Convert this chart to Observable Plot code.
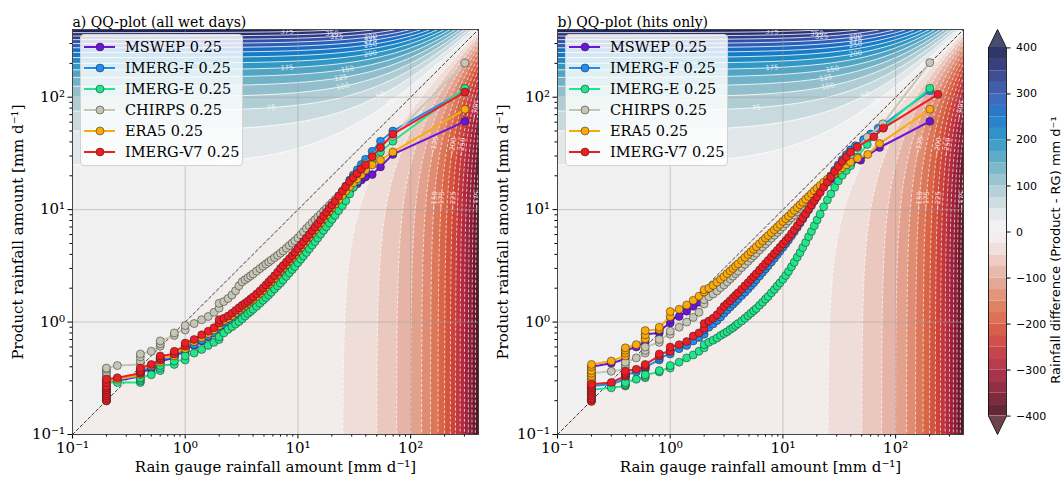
<!DOCTYPE html>
<html><head><meta charset="utf-8">
<script src="https://cdn.jsdelivr.net/npm/d3@7"></script>
<script src="https://cdn.jsdelivr.net/npm/@observablehq/plot@0.6"></script>
<style>
body{margin:0;background:#fff;}
#root{position:relative;width:1063px;height:482px;overflow:hidden;font-family:"DejaVu Serif",serif;}
.layer{position:absolute;top:0;}
.layer svg{display:block;overflow:visible;}
.legend{position:absolute;top:34px;width:161px;height:128px;padding-top:1.5px;background:rgba(255,255,255,0.82);border:1px solid #d2d2d2;border-radius:4px;font-family:"DejaVu Serif",serif;font-size:14.5px;color:#000;}
.row{height:21px;display:flex;align-items:center;white-space:nowrap;}
.row svg{width:44px;height:12px;flex:none;display:block;}
</style></head><body><div id="root"></div>
<script>
// ---------- labels ----------
const products = ["MSWEP 0.25", "IMERG-F 0.25", "IMERG-E 0.25", "CHIRPS 0.25", "ERA5 0.25", "IMERG-V7 0.25"];
const seriesColors = ["#6c14d8", "#1e8ef0", "#1fe68a", "#c6c6b6", "#fbaa0a", "#ee1c25"];
const titles = ["a) QQ-plot (all wet days)", "b) QQ-plot (hits only)"];
const xLabel = "Rain gauge rainfall amount [mm d\u207B\u00B9]";
const yLabel = "Product rainfall amount [mm d\u207B\u00B9]";
const cbLabel = "Rainfall difference (Product - RG) mm d\u207B\u00B9";

// ---------- axes ----------
const axisDomain = [0.1, 400];
const majorTicks = [0.1, 1, 10, 100];
const minorTicks = [0.2,0.3,0.4,0.5,0.6,0.7,0.8,0.9,2,3,4,5,6,7,8,9,20,30,40,50,60,70,80,90,200,300];
const cbTicks = [-400,-300,-200,-100,0,100,200,300,400];

// ---------- colour map (difference Product - RG) ----------
const cbValues = [-400,-350,-300,-250,-200,-150,-100,-50,-25,0,25,50,100,150,200,250,300,350,400];
const cbColors = ["#4b1320","#7f1a2f","#aa2541","#c93a3a","#d75b3d","#dd8264","#e4aa9b","#edd2ca","#f1e8e7","#f3f0ef","#edeff0","#d6e1e4","#a3c6cf","#62abc4","#2290c1","#1372c9","#3457b2","#2c367e","#1b1f4e"];
const bandLevels = d3.range(-400, 400, 25);
const posLevels = d3.range(25, 400, 25);
const negLevels = d3.range(-375, 0, 25);

// contour label placements (level, gauge or product value where label sits)
const posLabelLevels = [375, 350, 325, 300, 275, 250, 200, 175, 150, 125, 100, 75, 50, 25];
const posLabelAt     = [8, 20, 22, 44, 44, 44, 44, 8, 27.5, 24, 25, 5.8, 54, 66];
const negLabelLevels = [-125, -200, -250, -300, -150, -175, -225, -375];
const negLabelAt     = [37, 36, 36, 76, 12, 12, 12, 12];

// ---------- panel a: all wet days (shared gauge quantiles) ----------
const gaugeA = [0.2,0.2,0.2,0.2,0.2,0.2,0.2,0.2,0.2,0.2,
0.25, 0.4,0.4,0.4,0.4, 0.5, 0.6,0.6,0.6, 0.8,0.8, 1.0,1.0, 1.2,1.4,1.6,1.8, 2.0,2.0,
2.2,2.4,2.6,2.8,3.0,3.2,3.4,3.6,3.8,4.0,
4.3,4.6,4.9,5.2,5.5,5.8,6.2,6.6,7.0,7.4,
7.9,8.4,8.9,9.4,10.0,10.6,11.2,11.9,12.6,13.4,
14.2,15.0,15.9,16.9,17.9,19.0,20.1,21.4,
23.0,24.8,26.6,28.8,31.0,33.6,36.5,39.8,45.6,54,69.5,303];

const mswepA = [0.20,0.21,0.22,0.23,0.24,0.25,0.26,0.27,0.28,0.30,
0.30, 0.33,0.34,0.35,0.36, 0.38, 0.41,0.43,0.45, 0.48,0.50, 0.55,0.58, 0.62,0.68,0.74,0.80, 0.88,0.93,
0.97,1.02,1.08,1.14,1.21,1.28,1.34,1.40,1.47,1.53,
1.63,1.73,1.84,1.96,2.08,2.20,2.37,2.55,2.74,2.92,
3.14,3.37,3.60,3.85,4.15,4.45,4.78,5.15,5.52,5.95,
6.40,6.85,7.35,7.95,8.55,9.20,9.85,10.6,
11.5,12.5,13.5,14.7,15.8,17.0,18.3,19.5,20.5,24.0,31.0,61];

const imergFA = [0.20,0.21,0.22,0.23,0.24,0.25,0.26,0.27,0.28,0.295,
0.31, 0.33,0.34,0.355,0.37, 0.40, 0.43,0.45,0.47, 0.49,0.52, 0.56,0.59, 0.63,0.69,0.75,0.80, 0.87,0.92,
0.95,0.99,1.04,1.10,1.16,1.22,1.28,1.34,1.40,1.46,
1.55,1.65,1.75,1.86,1.97,2.08,2.24,2.41,2.59,2.77,
3.00,3.23,3.47,3.72,4.03,4.35,4.70,5.10,5.52,6.00,
6.50,7.00,7.60,8.30,9.00,9.85,10.7,11.7,
13.0,14.6,16.2,18.3,20.3,22.6,25.2,28.0,33.0,40.6,50.0,115];

const imergEA = [0.20,0.21,0.22,0.23,0.24,0.25,0.26,0.27,0.28,0.29,
0.29, 0.29,0.30,0.31,0.32, 0.34, 0.37,0.39,0.41, 0.42,0.45, 0.46,0.50, 0.53,0.57,0.62,0.66, 0.70,0.74,
0.80,0.86,0.91,0.96,1.01,1.07,1.13,1.19,1.24,1.30,
1.38,1.47,1.56,1.65,1.74,1.84,1.97,2.10,2.22,2.37,
2.55,2.74,2.93,3.12,3.37,3.62,3.87,4.16,4.48,4.84,
5.20,5.60,6.05,6.55,7.05,7.60,8.20,8.90,
9.80,10.8,12.0,13.8,15.8,18.0,20.5,23.2,27.5,32.6,40.6,120];

const chirpsA = [0.28,0.29,0.30,0.31,0.32,0.33,0.35,0.36,0.38,0.39,
0.41, 0.42,0.45,0.49,0.52, 0.55, 0.61,0.64,0.68, 0.76,0.80, 0.85,0.93, 0.97,1.05,1.12,1.22, 1.33,1.47,
1.52,1.62,1.74,1.90,2.10,2.28,2.38,2.48,2.58,2.68,
2.84,2.99,3.14,3.28,3.42,3.56,3.74,3.92,4.10,4.30,
4.55,4.80,5.04,5.29,5.60,5.95,6.35,6.80,7.20,7.70,
8.15,8.60,9.10,9.70,10.25,10.9,11.5,12.3,
13.3,14.5,15.8,17.4,19.0,20.8,23.0,25.5,30.0,36.0,45.0,201];

const era5A = [0.20,0.21,0.22,0.23,0.24,0.25,0.26,0.27,0.28,0.30,
0.31, 0.34,0.35,0.36,0.38, 0.41, 0.44,0.46,0.48, 0.50,0.53, 0.58,0.62, 0.67,0.73,0.79,0.85, 0.93,0.99,
1.03,1.08,1.14,1.21,1.28,1.34,1.40,1.46,1.53,1.59,
1.69,1.80,1.91,2.03,2.16,2.28,2.45,2.64,2.84,3.02,
3.25,3.48,3.71,3.97,4.27,4.60,4.93,5.30,5.70,6.15,
6.60,7.10,7.65,8.30,8.95,9.70,10.4,11.2,
12.2,13.4,14.6,16.0,17.3,18.8,20.5,22.5,25.0,27.5,32.5,78];

const imergV7A = [0.20,0.21,0.22,0.23,0.24,0.25,0.26,0.27,0.29,0.31,
0.32, 0.35,0.36,0.37,0.39, 0.42, 0.46,0.48,0.50, 0.52,0.55, 0.61,0.65, 0.70,0.77,0.83,0.89, 0.98,1.05,
1.08,1.13,1.20,1.27,1.34,1.41,1.47,1.53,1.60,1.67,
1.78,1.89,2.01,2.14,2.27,2.40,2.58,2.78,3.00,3.18,
3.42,3.66,3.90,4.18,4.50,4.85,5.20,5.60,6.00,6.50,
7.00,7.50,8.10,8.80,9.50,10.3,11.0,11.9,
13.2,14.6,16.0,17.8,19.3,21.0,23.0,24.9,29.5,35.7,46.9,111];

// ---------- panel b: hits only ----------
const gaugeB = [0.2,0.2,0.2,0.2,0.2,0.2,0.2,0.2,0.2,0.2,
0.3, 0.4,0.4,0.4,0.4, 0.5, 0.6,0.6,0.6, 0.8,0.8, 1.0,1.0, 1.2,1.4,1.6,1.8, 2.0,2.0,
2.2,2.4,2.6,2.8,3.0,3.2,3.4,3.6,3.8,4.0,
4.3,4.6,4.9,5.2,5.5,5.8,6.2,6.6,7.0,7.4,
7.9,8.4,8.9,9.4,10.0,10.6,11.2,11.9,12.6,13.4,
14.2,15.0,15.9,16.9,17.9,19.0,20.1,21.4,23.0,24.8,
26.6,28.8,31.0,33.6,36.5,39.8];

const mswepB = [0.25,0.26,0.27,0.28,0.29,0.31,0.33,0.35,0.37,0.40,
0.43, 0.47,0.50,0.53,0.56, 0.60, 0.67,0.72,0.78, 0.80,0.84, 0.98,1.05, 1.12,1.25,1.38,1.50, 1.66,1.75,
1.84,1.96,2.09,2.22,2.35,2.49,2.63,2.77,2.91,3.05,
3.26,3.47,3.68,3.90,4.11,4.32,4.60,4.88,5.16,5.44,
5.78,6.12,6.47,6.82,7.25,7.68,8.10,8.60,9.10,9.70,
10.3,10.85,11.5,12.2,12.9,13.7,14.5,15.4,16.4,17.5,
18.6,19.9,21.1,22.4,23.8,25.2];
const mswepBTailX = [48.9, 72, 201];
const mswepBTailY = [27.5, 35.7, 61];

const imergFB = [0.20,0.205,0.21,0.22,0.23,0.235,0.24,0.25,0.26,0.27,
0.28, 0.31,0.32,0.33,0.34, 0.36, 0.38,0.39,0.40, 0.46,0.48, 0.52,0.55, 0.58,0.62,0.68,0.73, 0.78,0.85,
0.90,0.96,1.03,1.11,1.20,1.28,1.36,1.44,1.52,1.60,
1.72,1.84,1.97,2.10,2.24,2.38,2.57,2.77,2.97,3.17,
3.43,3.70,3.98,4.27,4.62,4.98,5.36,5.85,6.35,6.95,
7.60,8.25,9.05,9.95,10.9,12.0,13.1,14.4,16.1,18.0,
20.0,22.5,25.0,27.8,30.8,34.0];
const imergFBTailX = [44, 52, 60, 70, 201];
const imergFBTailY = [37, 42, 47, 53, 114];

const imergEB = [0.20,0.205,0.21,0.215,0.22,0.225,0.23,0.235,0.24,0.25,
0.26, 0.27,0.275,0.28,0.29, 0.31, 0.32,0.33,0.34, 0.36,0.37, 0.39,0.41, 0.44,0.48,0.51,0.55, 0.59,0.63,
0.66,0.69,0.72,0.76,0.79,0.82,0.86,0.89,0.93,0.97,
1.02,1.08,1.14,1.20,1.26,1.32,1.41,1.50,1.60,1.69,
1.82,1.95,2.09,2.23,2.40,2.60,2.82,3.10,3.40,3.78,
4.15,4.60,5.10,5.75,6.40,7.20,8.10,9.10,10.6,12.2,
13.8,15.8,18.0,20.2,22.3,24.6];
const imergEBTailX = [46, 56, 78, 201];
const imergEBTailY = [29.5, 38, 54, 120];

const chirpsB = [0.24,0.25,0.26,0.27,0.28,0.29,0.30,0.32,0.33,0.35,
0.365, 0.38,0.40,0.42,0.44, 0.48, 0.53,0.56,0.60, 0.66,0.70, 0.78,0.83, 0.90,1.00,1.10,1.22, 1.45,1.58,
1.68,1.78,1.89,2.02,2.14,2.28,2.42,2.56,2.70,2.84,
3.05,3.26,3.47,3.68,3.89,4.10,4.38,4.66,4.94,5.22,
5.57,5.92,6.27,6.62,7.05,7.50,7.95,8.45,8.95,9.55,
10.15,10.75,11.45,12.2,13.0,13.9,14.8,15.8,17.0,18.4,
19.8,21.6,23.4,25.6,28.0,30.8];
const chirpsBTailX = [46, 56, 77, 201];
const chirpsBTailY = [35.5, 44, 58, 203];

const era5B = [0.27,0.28,0.29,0.30,0.31,0.33,0.35,0.37,0.40,0.42,
0.45, 0.50,0.53,0.56,0.59, 0.63, 0.71,0.77,0.84, 0.86,0.90, 1.12,1.24, 1.30,1.42,1.56,1.70, 1.85,1.94,
2.00,2.12,2.26,2.40,2.54,2.70,2.85,3.00,3.15,3.30,
3.53,3.76,3.99,4.22,4.45,4.68,4.98,5.28,5.58,5.88,
6.25,6.62,7.00,7.38,7.85,8.30,8.75,9.30,9.85,10.45,
11.05,11.65,12.35,13.1,13.85,14.7,15.5,16.4,17.5,18.6,
19.7,21.0,22.2,23.6,25.0,26.5];
const era5BTailX = [46, 56.6, 72, 201];
const era5BTailY = [28.6, 31, 38.7, 78];

const imergV7B = [0.197,0.205,0.21,0.22,0.23,0.24,0.25,0.26,0.27,0.28,
0.29, 0.33,0.34,0.35,0.365, 0.38, 0.40,0.41,0.42, 0.50,0.52, 0.55,0.60, 0.63,0.67,0.75,0.80, 0.88,0.97,
1.02,1.08,1.16,1.27,1.38,1.46,1.55,1.64,1.73,1.82,
1.96,2.10,2.24,2.39,2.54,2.69,2.90,3.10,3.32,3.53,
3.80,4.07,4.34,4.62,4.96,5.30,5.65,6.10,6.60,7.20,
7.80,8.45,9.20,10.1,11.0,12.0,13.0,14.2,15.8,17.6,
19.5,21.8,24.2,26.8,29.5,32.5];
const imergV7BTailX = [45.6, 64, 77.7, 237];
const imergV7BTailY = [36.2, 44.4, 53, 106];

// ---------- assemble ----------
const panelA = [mswepA, imergFA, imergEA, chirpsA, era5A, imergV7A].map(y => ({x: gaugeA, y}));
const panelB = [
  [mswepB, mswepBTailX, mswepBTailY],
  [imergFB, imergFBTailX, imergFBTailY],
  [imergEB, imergEBTailX, imergEBTailY],
  [chirpsB, chirpsBTailX, chirpsBTailY],
  [era5B, era5BTailX, era5BTailY],
  [imergV7B, imergV7BTailX, imergV7BTailY]
].map(([y, tx, ty]) => ({x: gaugeB.concat(tx), y: y.concat(ty)}));

const W = 485, H = 482, ML = 72, MR = 7, MT = 29, MB = 48;
const LOGMAX = Math.log10(axisDomain[1]), LOGMIN = Math.log10(axisDomain[0]);
const diff = (lx, ly) => Math.pow(10, ly) - Math.pow(10, lx);
const colorScale = {type: "linear", domain: cbValues.map(v => v - 12.5), range: cbColors, clamp: true};

const supMap = {"-": "\u207B", "0": "\u2070", "1": "\u00B9", "2": "\u00B2", "3": "\u00B3"};
const fmtPow = d => "10" + String(Math.round(Math.log10(d))).split("").map(c => supMap[c]).join("");
const fmtCb = d => d < 0 ? "\u2212" + Math.abs(d) : String(d);

const contourLabels = [
  ...posLabelLevels.map((c, i) => {
    const xv = posLabelAt[i], yv = xv + c;
    return {lx: Math.log10(xv), ly: Math.log10(yv), t: String(c), rot: -Math.atan(xv / yv) * 180 / Math.PI};
  }),
  ...negLabelLevels.map((c, i) => {
    const yv = negLabelAt[i], xv = yv - c;
    return {lx: Math.log10(xv), ly: Math.log10(yv), t: "\u2212" + Math.abs(c), rot: -Math.atan(xv / yv) * 180 / Math.PI};
  })
];

function backgroundPlot() {
  const bounds = {x1: LOGMIN, x2: LOGMAX, y1: LOGMIN, y2: LOGMAX, pixelSize: 1};
  return Plot.plot({
    width: W, height: H, marginLeft: ML, marginRight: MR, marginTop: MT, marginBottom: MB,
    x: {domain: [LOGMIN, LOGMAX], axis: null},
    y: {domain: [LOGMIN, LOGMAX], axis: null},
    color: colorScale,
    style: {background: "transparent"},
    marks: [
      Plot.contour({fill: diff, stroke: "none", thresholds: bandLevels, ...bounds}),
      Plot.contour({value: diff, fill: "none", stroke: "white", strokeWidth: 1, strokeOpacity: 0.8, thresholds: posLevels, ...bounds}),
      Plot.contour({value: diff, fill: "none", stroke: "white", strokeWidth: 0.9, strokeOpacity: 0.75, strokeDasharray: "3,2", thresholds: negLevels, ...bounds}),
      Plot.text(contourLabels, {x: "lx", y: "ly", text: "t", rotate: "rot", fill: "white", fillOpacity: 0.8, fontSize: 7, fontFamily: "DejaVu Sans"})
    ]
  });
}

function foregroundPlot(series, title) {
  const marks = [
    Plot.gridX([1, 10, 100], {stroke: "#9c9c9c", strokeOpacity: 0.55, strokeWidth: 0.9}),
    Plot.gridY([1, 10, 100], {stroke: "#9c9c9c", strokeOpacity: 0.55, strokeWidth: 0.9}),
    Plot.line(axisDomain, {x: d => d, y: d => d, stroke: "#111", strokeWidth: 0.8, strokeDasharray: "3,2.5"})
  ];
  series.forEach((s, k) => {
    const n = Math.min(s.x.length, s.y.length);
    const rows = d3.range(n).map(i => ({x: s.x[i], y: s.y[i]}));
    marks.push(Plot.line(rows, {x: "x", y: "y", stroke: seriesColors[k], strokeWidth: 2}));
    marks.push(Plot.dot(rows, {x: "x", y: "y", r: 4, fill: seriesColors[k], stroke: "#222", strokeWidth: 0.5}));
  });
  marks.push(
    Plot.axisX(minorTicks, {tickSize: 2.5, tickFormat: () => "", label: null}),
    Plot.axisX(majorTicks, {tickSize: 4.5, tickPadding: 3, tickFormat: fmtPow, fontSize: 15, label: null}),
    Plot.axisY(minorTicks, {tickSize: 2.5, tickFormat: () => "", label: null}),
    Plot.axisY(majorTicks, {tickSize: 4.5, tickPadding: 3, tickFormat: fmtPow, fontSize: 15, label: null}),
    Plot.frame({stroke: "#333", strokeWidth: 0.9}),
    Plot.text([title], {text: d => d, frameAnchor: "top-left", dy: -12, textAnchor: "start", fontSize: 14}),
    Plot.text([xLabel], {text: d => d, frameAnchor: "bottom", dy: 37, textAnchor: "middle", fontSize: 15}),
    Plot.text([yLabel], {text: d => d, frameAnchor: "left", dx: -54, rotate: -90, textAnchor: "middle", fontSize: 15})
  );
  return Plot.plot({
    width: W, height: H, marginLeft: ML, marginRight: MR, marginTop: MT, marginBottom: MB,
    x: {type: "log", domain: axisDomain, axis: null},
    y: {type: "log", domain: axisDomain, axis: null},
    style: {background: "transparent", fontFamily: "DejaVu Serif", color: "#000"},
    marks
  });
}

function colorbarPlot() {
  const tipTop = [{x: 0, y: 400}, {x: 0.5, y: 440}, {x: 1, y: 400}, {x: 0, y: 400}];
  const tipBot = [{x: 0, y: -400}, {x: 0.5, y: -440}, {x: 1, y: -400}, {x: 0, y: -400}];
  const outline = [{x: 0, y: 400}, {x: 0.5, y: 440}, {x: 1, y: 400}, {x: 1, y: -400}, {x: 0.5, y: -440}, {x: 0, y: -400}, {x: 0, y: 400}];
  return Plot.plot({
    width: 88, height: H, marginLeft: 13, marginRight: 57, marginTop: 47.4, marginBottom: 66.4,
    x: {domain: [0, 1], axis: null},
    y: {domain: [-400, 400], axis: null},
    color: colorScale,
    style: {background: "transparent", fontFamily: "DejaVu Sans", color: "#000"},
    marks: [
      Plot.rect(bandLevels, {x1: () => 0, x2: () => 1, y1: d => d, y2: d => d + 25, fill: d => d, fillOpacity: 0.92, inset: 0}),
      Plot.line(tipTop, {x: "x", y: "y", fill: cbColors[cbColors.length - 1], fillOpacity: 0.8, stroke: "none"}),
      Plot.line(tipBot, {x: "x", y: "y", fill: cbColors[0], fillOpacity: 0.8, stroke: "none"}),
      Plot.line(outline, {x: "x", y: "y", stroke: "#111", strokeWidth: 0.9}),
      Plot.axisY(cbTicks, {anchor: "right", tickSize: 3.5, tickPadding: 6, tickFormat: fmtCb, fontSize: 11, label: null}),
      Plot.text([cbLabel], {text: d => d, frameAnchor: "right", dx: 49, dy: 18, rotate: -90, textAnchor: "middle", fontSize: 13})
    ]
  });
}

function legendBox(left) {
  const box = document.createElement("div");
  box.className = "legend";
  box.style.left = left + "px";
  products.forEach((p, k) => {
    const row = document.createElement("div");
    row.className = "row";
    row.innerHTML = `<svg viewBox="0 0 44 12"><line x1="3" y1="6" x2="34" y2="6" stroke="${seriesColors[k]}" stroke-width="2"/><circle cx="19" cy="6" r="4" fill="${seriesColors[k]}" stroke="#222" stroke-width="0.5"/></svg><span>${p}</span>`;
    box.appendChild(row);
  });
  return box;
}

const root = document.getElementById("root");
function addLayer(el, left) {
  const d = document.createElement("div");
  d.className = "layer";
  d.style.left = left + "px";
  d.appendChild(el);
  root.appendChild(d);
}
addLayer(backgroundPlot(), 0);
addLayer(foregroundPlot(panelA, titles[0]), 0);
addLayer(backgroundPlot(), 485);
addLayer(foregroundPlot(panelB, titles[1]), 485);
addLayer(colorbarPlot(), 975);
root.appendChild(legendBox(80));
root.appendChild(legendBox(565));
</script></body></html>
